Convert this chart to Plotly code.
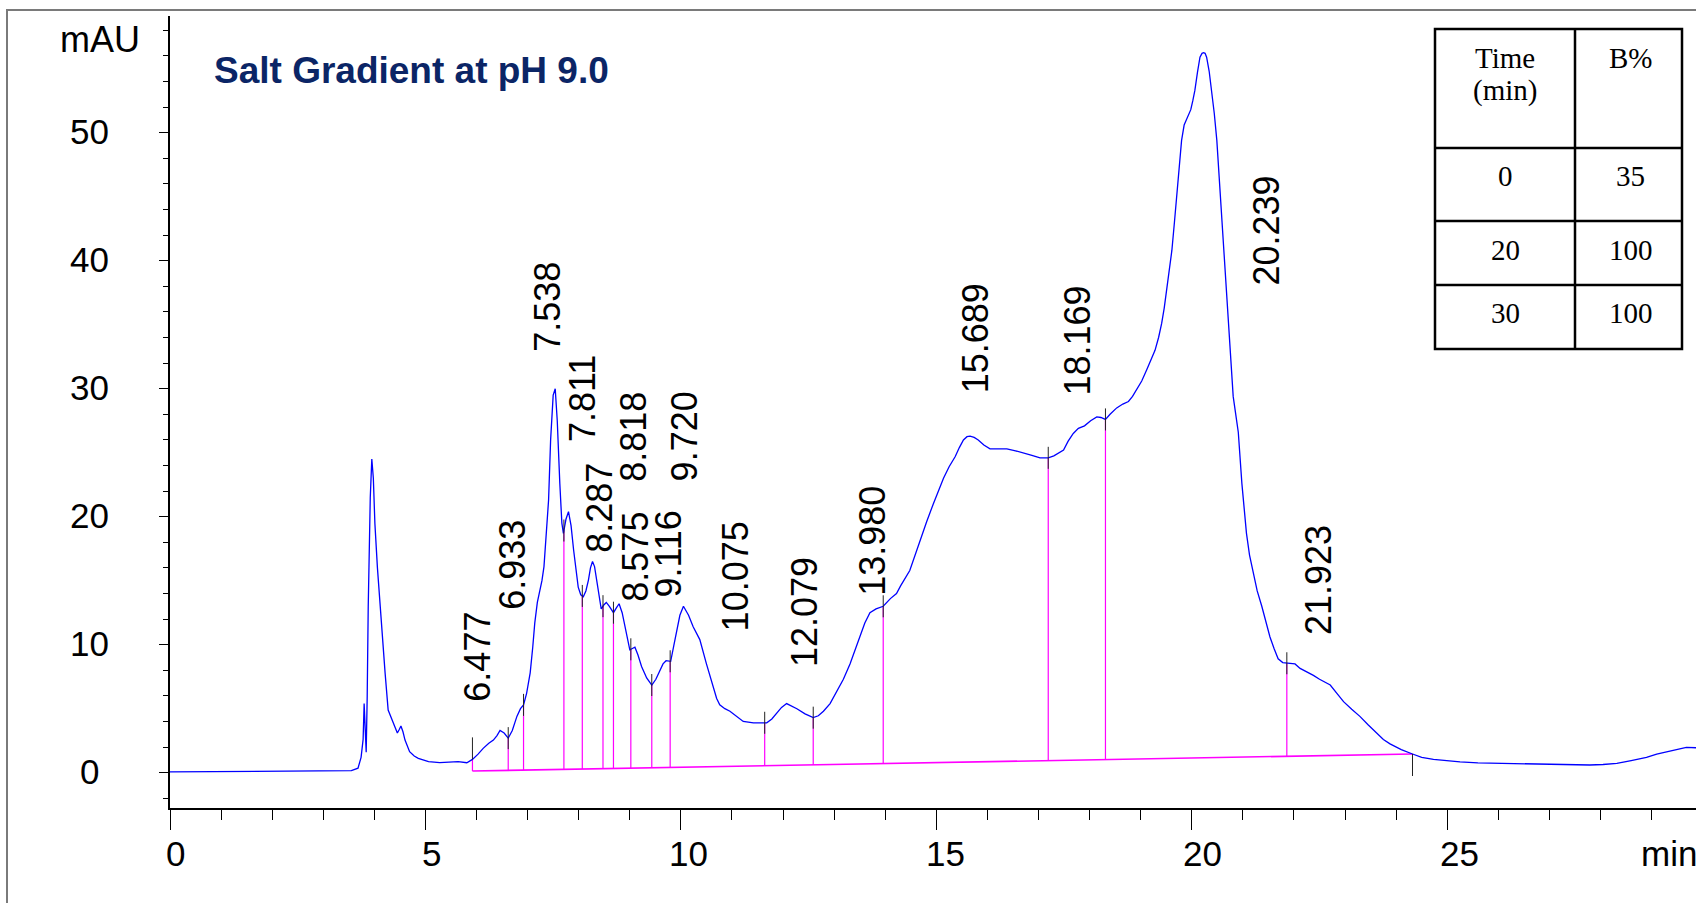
import numpy as np
import plotly.graph_objects as go

# ---- chromatogram trace (time in min, absorbance in mAU) ----
time_min = [
    0.00, 1.00, 2.00, 3.00, 3.55, 3.68, 3.74, 3.78, 3.80, 3.82, 3.84, 3.86, 3.88, 3.92, 3.95, 3.98,
    4.01, 4.06, 4.11, 4.16, 4.21, 4.27, 4.35, 4.41, 4.45, 4.49, 4.52, 4.56, 4.60, 4.69, 4.78, 4.86,
    5.06, 5.28, 5.45, 5.64, 5.81, 5.92, 6.03, 6.13, 6.24, 6.33, 6.40, 6.46, 6.54, 6.62, 6.70, 6.79,
    6.86, 6.92, 6.98, 7.05, 7.10, 7.14, 7.19, 7.24, 7.28, 7.32, 7.37, 7.41, 7.45, 7.50, 7.54, 7.58,
    7.63, 7.67, 7.70, 7.75, 7.80, 7.85, 7.90, 7.95, 7.99, 8.04, 8.09, 8.14, 8.19, 8.23, 8.27, 8.31,
    8.35, 8.40, 8.44, 8.49, 8.54, 8.60, 8.68, 8.74, 8.79, 8.85, 8.91, 8.96, 9.00, 9.05, 9.10, 9.16,
    9.23, 9.33, 9.43, 9.51, 9.59, 9.65, 9.71, 9.80, 9.86, 9.92, 9.98, 10.05, 10.15, 10.24, 10.37,
    10.50, 10.63, 10.70, 10.76, 10.86, 10.96, 11.10, 11.22, 11.42, 11.55, 11.68, 11.78, 11.87, 11.97,
    12.07, 12.17, 12.27, 12.43, 12.59, 12.69, 12.79, 12.92, 13.05, 13.18, 13.31, 13.41, 13.51, 13.60,
    13.70, 13.82, 13.96, 14.10, 14.22, 14.30, 14.48, 14.58, 14.68, 14.81, 14.94, 15.04, 15.14, 15.25,
    15.37, 15.45, 15.53, 15.60, 15.66, 15.74, 15.82, 15.93, 16.05, 16.20, 16.38, 16.55, 16.70, 16.87,
    17.03, 17.19, 17.30, 17.40, 17.49, 17.58, 17.68, 17.78, 17.90, 18.02, 18.14, 18.22, 18.31, 18.40,
    18.53, 18.65, 18.76, 18.84, 18.92, 19.02, 19.12, 19.20, 19.28, 19.35, 19.41, 19.46, 19.51, 19.56,
    19.61, 19.66, 19.70, 19.75, 19.80, 19.85, 19.90, 19.95, 19.98, 20.02, 20.06, 20.11, 20.16, 20.20,
    20.23, 20.26, 20.29, 20.34, 20.39, 20.44, 20.49, 20.55, 20.62, 20.67, 20.72, 20.77, 20.81, 20.86,
    20.91, 20.98, 21.07, 21.13, 21.20, 21.28, 21.37, 21.45, 21.53, 21.61, 21.69, 21.78, 21.86, 21.94,
    22.02, 22.12, 22.25, 22.38, 22.50, 22.62, 22.71, 22.84, 22.97, 23.13, 23.29, 23.45, 23.62, 23.75,
    23.88, 24.10, 24.32, 24.50, 24.73, 25.00, 25.25, 25.60, 26.03, 26.50, 27.01, 27.40, 27.79, 28.05,
    28.32, 28.60, 28.90, 29.10, 29.29, 29.50, 29.68, 29.87,
]
absorbance_mau = [
    0.06, 0.08, 0.10, 0.13, 0.16, 0.35, 1.2, 2.6, 5.4, 3.5, 1.6, 6.0, 13.0, 21.5, 24.5, 23.0,
    19.5, 16.0, 13.0, 10.2, 7.8, 4.9, 4.1, 3.4, 3.1, 3.4, 3.65, 3.2, 2.55, 1.64, 1.3, 1.12,
    0.86, 0.78, 0.82, 0.86, 0.78, 1.04, 1.45, 1.9, 2.3, 2.55, 2.9, 3.3, 3.1, 2.7, 3.3, 4.4,
    5.0, 5.3, 6.2, 7.8, 9.8, 11.7, 13.3, 14.3, 15.0, 16.1, 18.8, 21.3, 26.0, 29.5, 30.0, 27.5,
    22.6, 19.5, 18.7, 19.8, 20.4, 19.3, 17.4, 15.6, 14.5, 13.9, 13.75, 14.2, 15.05, 16.0, 16.5, 16.1,
    15.05, 13.8, 12.8, 13.1, 13.3, 13.0, 12.5, 12.9, 13.2, 12.5, 11.4, 10.3, 9.6, 9.7, 9.8, 9.2,
    8.3, 7.4, 6.85, 7.3, 8.0, 8.5, 8.75, 8.7, 9.9, 11.1, 12.3, 13.0, 12.3, 11.4, 10.4,
    8.5, 6.6, 5.8, 5.3, 5.0, 4.8, 4.4, 4.0, 3.9, 3.9, 3.9, 4.2, 4.6, 5.1,
    5.4, 5.2, 5.0, 4.6, 4.3, 4.45, 4.8, 5.4, 6.3, 7.3, 8.5, 9.6, 10.7, 11.7,
    12.5, 12.8, 13.0, 13.6, 14.0, 14.6, 15.8, 17.0, 18.2, 19.6, 21.0, 22.0, 23.0, 23.9,
    24.7, 25.4, 26.0, 26.25, 26.3, 26.2, 26.0, 25.6, 25.3, 25.3, 25.3, 25.15, 25.0, 24.8,
    24.6, 24.6, 24.75, 25.0, 25.2, 25.9, 26.5, 26.9, 27.1, 27.5, 27.8, 27.75, 27.6, 28.0,
    28.5, 28.8, 29.0, 29.4, 29.9, 30.6, 31.5, 32.2, 33.0, 34.0, 35.1, 36.3, 37.7, 39.2,
    40.8, 43.0, 45.0, 47.3, 49.4, 50.6, 51.1, 51.5, 51.8, 52.5, 53.3, 54.7, 55.9, 56.2,
    56.25, 56.2, 55.9, 54.8, 53.3, 51.5, 49.4, 45.5, 41.1, 37.8, 34.6, 31.8, 29.4, 28.0,
    26.6, 22.6, 18.7, 17.0, 15.6, 14.2, 13.0, 11.8, 10.6, 9.7, 8.9, 8.6, 8.55, 8.55,
    8.5, 8.15, 7.9, 7.6, 7.3, 7.05, 6.85, 6.2, 5.55, 4.95, 4.4, 3.75, 3.1, 2.6,
    2.25, 1.8, 1.46, 1.2, 1.04, 0.92, 0.84, 0.77, 0.73, 0.67, 0.63, 0.6, 0.6, 0.64,
    0.73, 0.95, 1.2, 1.45, 1.64, 1.85, 1.98, 1.95,
]

# ---- integration events ----
baseline_start = (5.92, 0.13)
baseline_end = (24.32, 1.46)
drop_times = [5.92, 6.62, 6.92, 7.71, 8.07, 8.475, 8.68, 9.02, 9.43, 9.79,
              11.64, 12.59, 13.96, 17.19, 18.31, 21.86]

# ---- peak retention times ----
peak_rt = [6.477, 6.933, 7.538, 7.811, 8.287, 8.818, 8.575, 9.116, 9.720,
           10.075, 12.079, 13.980, 15.689, 18.169, 20.239, 21.923]

# ---- gradient table ----
grad_time = ["0", "20", "30"]
grad_b = ["35", "100", "100"]

# ---- axis ticks ----
y_ticks = [0, 10, 20, 30, 40, 50]
x_ticks = [0, 5, 10, 15, 20, 25]

# label anchor points (min, mAU) for the rotated retention-time labels
label_pos = [
    (6.03, 5.4), (6.70, 12.6), (7.39, 32.7), (8.06, 25.7), (8.39, 17.0), (9.07, 22.6),
    (9.12, 13.2), (9.75, 13.5), (10.06, 22.6), (11.07, 10.85), (12.41, 8.1), (13.75, 13.7),
    (15.76, 29.5), (17.77, 29.3), (21.47, 37.9), (22.47, 10.6),
]

W, H = 1696, 903
PL, PR, PT, PB = 170, 1696, 16, 808
X_RANGE = [0, (PR - PL) / 51.09]
Y_RANGE = [(772.7 - PB) / 12.8, (772.7 - PT) / 12.8]

SANS = "Liberation Sans, Arial"


def px_x(px):
    return (px - PL) / (PR - PL)


def px_y(py):
    return (PB - py) / (PB - PT)


t = np.array(time_min)
a = np.array(absorbance_mau)
mau_per_px = 1 / 12.8


def base_at(x):
    (x0, y0), (x1, y1) = baseline_start, baseline_end
    return y0 + (x - x0) * (y1 - y0) / (x1 - x0)


fig = go.Figure()

# drop lines from integration baseline up to the signal
dx, dy = [], []
for tm in drop_times:
    dx += [tm, tm, None]
    dy += [base_at(tm), float(np.interp(tm, t, a)), None]
fig.add_trace(go.Scatter(x=dx, y=dy, mode="lines",
                         line=dict(color="#ff00ff", width=1.2), hoverinfo="skip"))

# integration baseline
fig.add_trace(go.Scatter(x=[baseline_start[0], baseline_end[0]],
                         y=[baseline_start[1], baseline_end[1]], mode="lines",
                         line=dict(color="#ff00ff", width=1.6), hoverinfo="skip"))

# signal
fig.add_trace(go.Scatter(x=time_min, y=absorbance_mau, mode="lines",
                         line=dict(color="#0000ff", width=1.3), hoverinfo="skip"))

# peak-boundary event ticks
tx, ty = [], []
half = 11 * mau_per_px
for i, tm in enumerate(drop_times + [baseline_end[0]]):
    yc = float(np.interp(tm, t, a))
    if i == 0:
        lo, hi = yc, yc + 2 * half
    elif tm == baseline_end[0]:
        lo, hi = yc - 2 * half, yc
    else:
        lo, hi = yc - half, yc + half
    tx += [tm, tm, None]
    ty += [lo, hi, None]
fig.add_trace(go.Scatter(x=tx, y=ty, mode="lines",
                         line=dict(color="#222222", width=1), hoverinfo="skip"))

annotations = []

# retention-time labels
for rt, (lx, ly) in zip(peak_rt, label_pos):
    annotations.append(dict(
        x=lx, y=ly, xref="x", yref="y", text=f"{rt:.3f}", showarrow=False,
        textangle=-90, xanchor="center", yanchor="bottom",
        font=dict(family=SANS, size=36, color="black")))

# y tick labels centred in the left margin
for v in y_ticks:
    annotations.append(dict(
        x=px_x(89), y=v, xref="paper", yref="y", text=str(v), showarrow=False,
        xanchor="center", yanchor="middle", yshift=1,
        font=dict(family=SANS, size=35, color="black")))

# x tick labels below the axis
for v in x_ticks:
    annotations.append(dict(
        x=v, y=px_y(853), xref="x", yref="paper", text=str(v), showarrow=False,
        xanchor="center", yanchor="middle", xshift=5 + 0.3 * v,
        font=dict(family=SANS, size=35, color="black")))

annotations.append(dict(
    x=px_x(100), y=px_y(40), xref="paper", yref="paper", text="mAU", showarrow=False,
    xanchor="center", yanchor="middle",
    font=dict(family=SANS, size=36, color="black")))
annotations.append(dict(
    x=px_x(1639), y=px_y(853), xref="paper", yref="paper", text="min", showarrow=False,
    xanchor="left", yanchor="middle",
    font=dict(family=SANS, size=35, color="black")))
annotations.append(dict(
    x=px_x(212), y=px_y(70), xref="paper", yref="paper",
    text="<b>Salt Gradient at pH 9.0</b>", showarrow=False,
    xanchor="left", yanchor="middle",
    font=dict(family=SANS, size=37, color="#0b2566")))

# gradient table
TL, TM, TR = 1435, 1575, 1682
rows = [29, 148, 221, 285, 349]
shapes = [
    dict(type="rect", xref="paper", yref="paper", x0=px_x(7), x1=px_x(1702),
         y0=px_y(910), y1=px_y(10), line=dict(color="#7a7a7a", width=2), layer="below"),
    dict(type="rect", xref="paper", yref="paper", x0=px_x(TL), x1=px_x(TR),
         y0=px_y(rows[-1]), y1=px_y(rows[0]), line=dict(color="black", width=2.5),
         fillcolor="white", layer="above"),
    dict(type="line", xref="paper", yref="paper", x0=px_x(TM), x1=px_x(TM),
         y0=px_y(rows[-1]), y1=px_y(rows[0]), line=dict(color="black", width=2.5)),
]
for r in rows[1:-1]:
    shapes.append(dict(type="line", xref="paper", yref="paper", x0=px_x(TL), x1=px_x(TR),
                       y0=px_y(r), y1=px_y(r), line=dict(color="black", width=2.5)))

serif = dict(family="Liberation Serif, Times New Roman", size=29, color="black")
cl, cr = (TL + TM) / 2, (TM + TR) / 2 + 2
header_cells = [(cl, 58, "Time"), (cl, 90, "(min)"), (cr, 58, "B%")]
for cx, cy, txt in header_cells:
    annotations.append(dict(x=px_x(cx), y=px_y(cy), xref="paper", yref="paper", text=txt,
                            showarrow=False, xanchor="center", yanchor="middle", font=serif))
row_centres = [176, 250, 313]
for cy, tv, bv in zip(row_centres, grad_time, grad_b):
    annotations.append(dict(x=px_x(cl), y=px_y(cy), xref="paper", yref="paper", text=tv,
                            showarrow=False, xanchor="center", yanchor="middle", font=serif))
    annotations.append(dict(x=px_x(cr), y=px_y(cy), xref="paper", yref="paper", text=bv,
                            showarrow=False, xanchor="center", yanchor="middle", font=serif))

fig.update_layout(
    width=W, height=H,
    margin=dict(l=PL, r=W - PR, t=PT, b=H - PB, pad=0),
    paper_bgcolor="white", plot_bgcolor="white",
    showlegend=False,
    shapes=shapes, annotations=annotations,
    xaxis=dict(range=X_RANGE, showgrid=False, zeroline=False, showline=True,
               linecolor="black", linewidth=1.5, ticks="outside", tickmode="array",
               tickvals=x_ticks, ticklen=20, tickwidth=1, tickcolor="black",
               showticklabels=False,
               minor=dict(dtick=1, tick0=0, ticks="outside", ticklen=10,
                          tickwidth=1, tickcolor="black", showgrid=False)),
    yaxis=dict(range=Y_RANGE, showgrid=False, zeroline=False, showline=True,
               linecolor="black", linewidth=1.5, ticks="outside", tickmode="array",
               tickvals=y_ticks, ticklen=9, tickwidth=1, tickcolor="black",
               showticklabels=False,
               minor=dict(dtick=2, tick0=0, ticks="outside", ticklen=5,
                          tickwidth=1, tickcolor="black", showgrid=False)),
)

fig.write_html("out.html")
